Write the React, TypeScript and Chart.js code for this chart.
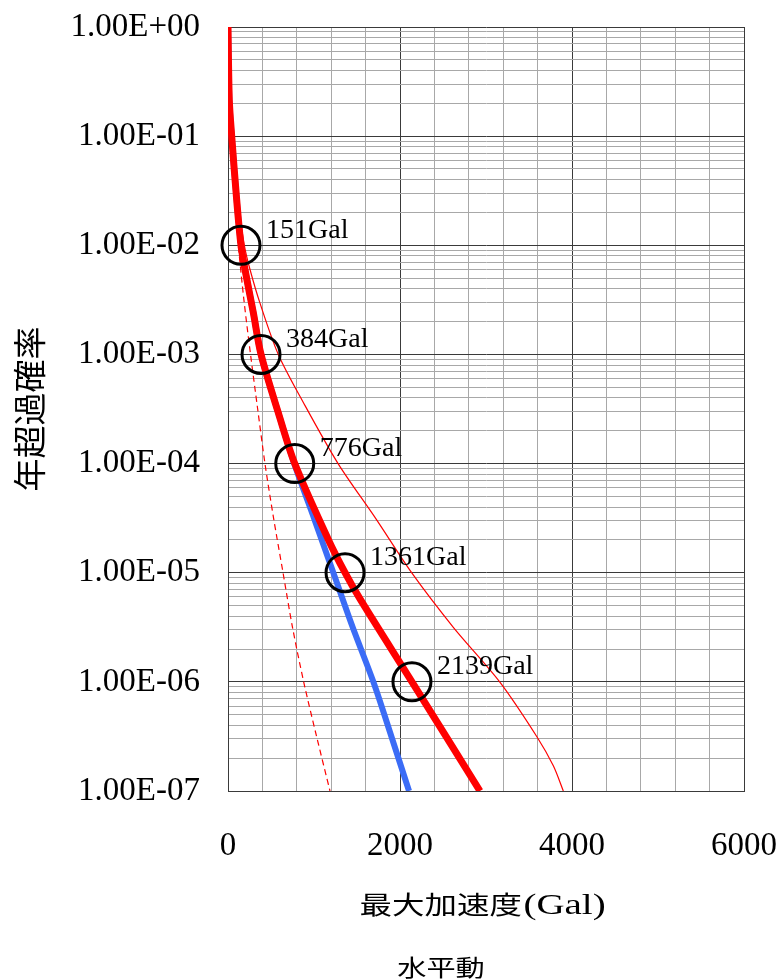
import React, { useEffect, useRef } from 'react';
import { Chart, registerables } from 'chart.js';

Chart.register(...registerables);

// Hazard curves: peak ground acceleration (Gal) vs. annual exceedance probability
const meanGal = [0, 15, 43, 101, 151, 198, 295, 384, 585, 776, 1163, 1361, 1535, 2139, 2930];
const meanProb = [1, 0.215, 0.1, 0.0261, 0.01, 0.00598, 0.0024, 0.001, 0.000292, 0.0001, 2.04e-5, 1e-5, 5.75e-6, 1e-6, 1e-7];

const blueGal = [0, 15, 43, 101, 151, 198, 295, 384, 585, 770, 1000, 1225, 1450, 1690, 1900, 2105];
const blueProb = [1, 0.215, 0.1, 0.0261, 0.01, 0.00598, 0.0024, 0.001, 0.000292, 0.0001, 3.16e-5, 1e-5, 3.16e-6, 1e-6, 3.16e-7, 1e-7];

const upperGal = [0, 55, 100, 190, 256, 372, 585, 876, 1280, 1715, 2135, 2620, 3159, 3590, 3783, 3899];
const upperProb = [1, 0.1, 0.0316, 0.01, 0.006, 0.00295, 0.001, 0.000363, 0.0001, 3.16e-5, 1e-5, 3.16e-6, 1e-6, 3.16e-7, 1.7e-7, 1e-7];

const lowerGal = [0, 35, 70, 120, 185, 262, 345, 430, 530, 640, 750, 880, 1030, 1186];
const lowerProb = [1, 0.1, 0.0316, 0.01, 0.00316, 0.001, 0.000316, 0.0001, 3.16e-5, 1e-5, 3.16e-6, 1e-6, 3.16e-7, 1e-7];

// Marked accelerations on the mean curve
const markGal = [151, 384, 776, 1361, 2139];
const markProb = [1e-2, 1e-3, 1e-4, 1e-5, 1e-6];

// Axis labels
const decadeLabels = ['1.00E+00', '1.00E-01', '1.00E-02', '1.00E-03', '1.00E-04', '1.00E-05', '1.00E-06', '1.00E-07'];
const xTickLabels = ['0', '2000', '4000', '6000'];
const xMajorStep = 2000;
const xMinorStep = 400;
const xTitleCjk = '最大加速度';
const xTitleUnit = '(Gal)';
const yTitle = '年超過確率';
const caption = '水平動';

const MAJOR = '#3a3a3a';
const MINOR = '#a8a8a8';
const SERIF = '"Liberation Serif", "Times New Roman", serif';
const CJK = '"Noto Sans CJK JP", sans-serif';

const toPts = (xs: number[], ys: number[]) => xs.map((x, i) => ({ x, y: ys[i] }));

const isDecade = (v: number) => {
  const l = Math.log10(v);
  return Math.abs(l - Math.round(l)) < 1e-9;
};

// log-scale grid values: every mantissa 1..9 within each decade
const yGridValues: number[] = [];
for (let e = -7; e <= 0; e++) {
  for (let m = 1; m <= 9; m++) {
    if (e === 0 && m > 1) break;
    yGridValues.push(m * Math.pow(10, e));
  }
}

const noScalePadding = (scale: any) => {
  scale.paddingTop = 0;
  scale.paddingBottom = 0;
  scale.paddingLeft = 0;
  scale.paddingRight = 0;
};

const annotatePlugin = {
  id: 'annotate',
  afterDatasetsDraw(chart: any) {
    const { ctx } = chart;
    const xs = chart.scales.x;
    const ys = chart.scales.y;
    ctx.save();
    ctx.fillStyle = '#000';
    ctx.font = `28px ${SERIF}`;
    ctx.textAlign = 'left';
    ctx.textBaseline = 'middle';
    markGal.forEach((g, i) => {
      const px = xs.getPixelForValue(g);
      const py = ys.getPixelForValue(markProb[i]);
      ctx.fillText(`${g}Gal`, px + 25, py - 15);
    });
    ctx.restore();
  },
  afterDraw(chart: any) {
    const { ctx, chartArea } = chart;
    // x-axis title, wide lettering
    ctx.save();
    ctx.fillStyle = '#000';
    ctx.textBaseline = 'alphabetic';
    ctx.textAlign = 'left';
    const cx = (chartArea.left + chartArea.right) / 2 - 4;
    ctx.translate(cx, 914);
    ctx.scale(1.3, 1);
    ctx.font = `25px ${CJK}`;
    const w1 = ctx.measureText(xTitleCjk).width;
    ctx.font = `30px ${SERIF}`;
    const w2 = ctx.measureText(xTitleUnit).width;
    const x0 = -(w1 + w2) / 2;
    ctx.font = `25px ${CJK}`;
    ctx.fillText(xTitleCjk, x0, 0);
    ctx.font = `30px ${SERIF}`;
    ctx.fillText(xTitleUnit, x0 + w1 + 1, 0);
    ctx.restore();

    // caption under the chart
    ctx.save();
    ctx.fillStyle = '#000';
    ctx.textBaseline = 'alphabetic';
    ctx.textAlign = 'center';
    ctx.translate(441, 976);
    ctx.scale(1.27, 1);
    ctx.font = `23px ${CJK}`;
    ctx.fillText(caption, 0, 0);
    ctx.restore();
  },
};

export default function App() {
  const canvasRef = useRef<HTMLCanvasElement | null>(null);

  useEffect(() => {
    if (!canvasRef.current) return;
    const chart = new Chart(canvasRef.current, {
      type: 'scatter',
      data: {
        datasets: [
          {
            label: 'marks',
            data: toPts(markGal, markProb),
            showLine: false,
            pointRadius: 19,
            pointBorderWidth: 3,
            pointBorderColor: '#000',
            pointBackgroundColor: 'rgba(0,0,0,0)',
            clip: false,
            order: 0,
          },
          {
            label: 'mean',
            data: toPts(meanGal, meanProb),
            showLine: true,
            borderColor: '#ff0000',
            borderWidth: 7,
            pointRadius: 0,
            tension: 0.3,
            order: 1,
          },
          {
            label: 'blue',
            data: toPts(blueGal, blueProb),
            showLine: true,
            borderColor: '#3b6cf6',
            borderWidth: 6,
            pointRadius: 0,
            tension: 0.3,
            order: 2,
          },
          {
            label: 'upper',
            data: toPts(upperGal, upperProb),
            showLine: true,
            borderColor: '#ff0000',
            borderWidth: 1.2,
            pointRadius: 0,
            tension: 0.3,
            order: 3,
          },
          {
            label: 'lower',
            data: toPts(lowerGal, lowerProb),
            showLine: true,
            borderColor: '#ff0000',
            borderWidth: 1.2,
            borderDash: [6, 4],
            pointRadius: 0,
            tension: 0.3,
            order: 4,
          },
        ],
      },
      options: {
        animation: false,
        responsive: false,
        devicePixelRatio: 1,
        events: [],
        layout: { padding: { left: 0, top: 27, right: 40, bottom: 0 } },
        plugins: {
          legend: { display: false },
          tooltip: { enabled: false },
          title: { display: false },
        },
        scales: {
          x: {
            type: 'linear',
            min: 0,
            max: 6000,
            afterFit: (scale: any) => {
              scale.height = 189;
              noScalePadding(scale);
            },
            ticks: {
              stepSize: xMinorStep,
              autoSkip: false,
              maxRotation: 0,
              minRotation: 0,
              padding: 36,
              color: '#000',
              font: { family: SERIF, size: 33 },
              callback: (v: any) => {
                const n = Number(v);
                if (n % xMajorStep !== 0) return '';
                return xTickLabels[n / xMajorStep] ?? '';
              },
            },
            grid: {
              drawTicks: false,
              lineWidth: 1,
              color: (c: any) => (c.tick && c.tick.value % xMajorStep === 0 ? MAJOR : MINOR),
            },
            border: { color: MAJOR, width: 1 },
          },
          y: {
            type: 'logarithmic',
            min: 1e-7,
            max: 1,
            afterBuildTicks: (scale: any) => {
              scale.ticks = yGridValues.map((v) => ({ value: v }));
            },
            afterFit: (scale: any) => {
              scale.width = 228;
              noScalePadding(scale);
            },
            ticks: {
              autoSkip: false,
              padding: 28,
              color: '#000',
              font: { family: SERIF, size: 33 },
              callback: (v: any) => {
                const n = Number(v);
                if (!isDecade(n)) return '';
                return decadeLabels[-Math.round(Math.log10(n))] ?? '';
              },
            },
            grid: {
              drawTicks: false,
              lineWidth: 1,
              color: (c: any) => (c.tick && isDecade(c.tick.value) ? MAJOR : MINOR),
            },
            border: { color: MAJOR, width: 1 },
            title: {
              display: true,
              text: yTitle,
              color: '#000',
              font: { family: CJK, size: 33 },
              padding: { top: 10, bottom: 0 },
            },
          },
        },
      },
      plugins: [annotatePlugin],
    } as any);
    return () => chart.destroy();
  }, []);

  return (
    <div style={{ position: 'absolute', left: 0, top: 0, width: 784, height: 980, background: '#fff' }}>
      <canvas ref={canvasRef} width={784} height={980} style={{ width: 784, height: 980, display: 'block' }} />
    </div>
  );
}
